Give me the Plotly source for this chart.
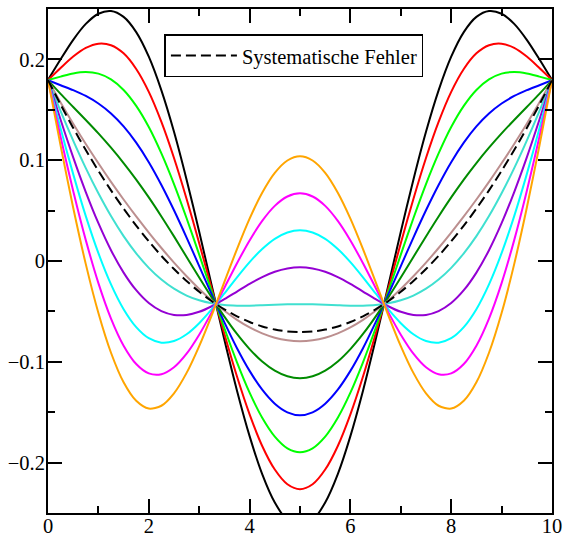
import plotly.graph_objects as go

x = [0, 0.25, 0.5, 0.75, 1, 1.25, 1.5, 1.75, 2, 2.25, 2.5, 2.75, 3, 3.25, 3.5, 3.75, 4, 4.25, 4.5, 4.75, 5,
     5.25, 5.5, 5.75, 6, 6.25, 6.5, 6.75, 7, 7.25, 7.5, 7.75, 8, 8.25, 8.5, 8.75, 9, 9.25, 9.5, 9.75, 10]

black = [0.1795, 0.2001, 0.2194, 0.2352, 0.2453, 0.2480, 0.2422, 0.2271, 0.2027, 0.1693, 0.1282, 0.0807,
         0.0290, -0.0248, -0.0781, -0.1286, -0.1737, -0.2114, -0.2396, -0.2572, -0.2631,
         -0.2572, -0.2396, -0.2114, -0.1737, -0.1286, -0.0781, -0.0248, 0.0290, 0.0807, 0.1282, 0.1693,
         0.2027, 0.2271, 0.2422, 0.2480, 0.2453, 0.2352, 0.2194, 0.2001, 0.1795]
red = [0.1795, 0.1915, 0.2028, 0.2114, 0.2156, 0.2141, 0.2060, 0.1905, 0.1678, 0.1380, 0.1022, 0.0616,
       0.0177, -0.0277, -0.0724, -0.1146, -0.1521, -0.1835, -0.2069, -0.2215, -0.2264,
       -0.2215, -0.2069, -0.1835, -0.1521, -0.1146, -0.0724, -0.0277, 0.0177, 0.0616, 0.1022, 0.1380,
       0.1678, 0.1905, 0.2060, 0.2141, 0.2156, 0.2114, 0.2028, 0.1915, 0.1795]
green = [0.1795, 0.1829, 0.1861, 0.1875, 0.1859, 0.1802, 0.1697, 0.1539, 0.1329, 0.1067, 0.0763, 0.0424,
         0.0063, -0.0305, -0.0667, -0.1005, -0.1306, -0.1555, -0.1742, -0.1858, -0.1897,
         -0.1858, -0.1742, -0.1555, -0.1306, -0.1005, -0.0667, -0.0305, 0.0063, 0.0424, 0.0763, 0.1067,
         0.1329, 0.1539, 0.1697, 0.1802, 0.1859, 0.1875, 0.1861, 0.1829, 0.1795]
blue = [0.1795, 0.1744, 0.1695, 0.1637, 0.1562, 0.1463, 0.1335, 0.1174, 0.0980, 0.0754, 0.0503, 0.0232,
        -0.0050, -0.0334, -0.0609, -0.0865, -0.1090, -0.1276, -0.1415, -0.1501, -0.1530,
        -0.1501, -0.1415, -0.1276, -0.1090, -0.0865, -0.0609, -0.0334, -0.0050, 0.0232, 0.0503, 0.0754,
        0.0980, 0.1174, 0.1335, 0.1463, 0.1562, 0.1637, 0.1695, 0.1744, 0.1795]
green4 = [0.1795, 0.1658, 0.1528, 0.1399, 0.1266, 0.1124, 0.0972, 0.0808, 0.0631, 0.0442, 0.0244, 0.0040,
          -0.0164, -0.0363, -0.0552, -0.0724, -0.0874, -0.0997, -0.1088, -0.1144, -0.1163,
          -0.1144, -0.1088, -0.0997, -0.0874, -0.0724, -0.0552, -0.0363, -0.0164, 0.0040, 0.0244, 0.0442,
          0.0631, 0.0808, 0.0972, 0.1124, 0.1266, 0.1399, 0.1528, 0.1658, 0.1795]
brown = [0.1795, 0.1572, 0.1361, 0.1160, 0.0969, 0.0785, 0.0610, 0.0442, 0.0282, 0.0129, -0.0016, -0.0151,
         -0.0277, -0.0392, -0.0494, -0.0584, -0.0659, -0.0718, -0.0761, -0.0787, -0.0796,
         -0.0787, -0.0761, -0.0718, -0.0659, -0.0584, -0.0494, -0.0392, -0.0277, -0.0151, -0.0016, 0.0129,
         0.0282, 0.0442, 0.0610, 0.0785, 0.0969, 0.1160, 0.1361, 0.1572, 0.1795]
turquoise = [0.1795, 0.1487, 0.1195, 0.0922, 0.0672, 0.0446, 0.0247, 0.0076, -0.0068, -0.0184, -0.0275, -0.0343,
             -0.0390, -0.0420, -0.0437, -0.0443, -0.0443, -0.0439, -0.0434, -0.0430, -0.0429,
             -0.0430, -0.0434, -0.0439, -0.0443, -0.0443, -0.0437, -0.0420, -0.0390, -0.0343, -0.0275, -0.0184,
             -0.0068, 0.0076, 0.0247, 0.0446, 0.0672, 0.0922, 0.1195, 0.1487, 0.1795]
violet = [0.1795, 0.1401, 0.1028, 0.0684, 0.0375, 0.0107, -0.0115, -0.0290, -0.0417, -0.0497, -0.0535, -0.0535,
          -0.0504, -0.0449, -0.0379, -0.0303, -0.0227, -0.0160, -0.0107, -0.0074, -0.0062,
          -0.0074, -0.0107, -0.0160, -0.0227, -0.0303, -0.0379, -0.0449, -0.0504, -0.0535, -0.0535, -0.0497,
          -0.0417, -0.0290, -0.0115, 0.0107, 0.0375, 0.0684, 0.1028, 0.1401, 0.1795]
cyan = [0.1795, 0.1315, 0.0862, 0.0445, 0.0078, -0.0232, -0.0478, -0.0656, -0.0766, -0.0810, -0.0794, -0.0727,
        -0.0617, -0.0478, -0.0322, -0.0162, -0.0011, 0.0119, 0.0220, 0.0283, 0.0305,
        0.0283, 0.0220, 0.0119, -0.0011, -0.0162, -0.0322, -0.0478, -0.0617, -0.0727, -0.0794, -0.0810,
        -0.0766, -0.0656, -0.0478, -0.0232, 0.0078, 0.0445, 0.0862, 0.1315, 0.1795]
magenta = [0.1795, 0.1230, 0.0695, 0.0207, -0.0219, -0.0571, -0.0840, -0.1022, -0.1115, -0.1123, -0.1054, -0.0919,
           -0.0731, -0.0507, -0.0265, -0.0022, 0.0204, 0.0398, 0.0547, 0.0640, 0.0672,
           0.0640, 0.0547, 0.0398, 0.0204, -0.0022, -0.0265, -0.0507, -0.0731, -0.0919, -0.1054, -0.1123,
           -0.1115, -0.1022, -0.0840, -0.0571, -0.0219, 0.0207, 0.0695, 0.1230, 0.1795]
orange = [0.1795, 0.1144, 0.0528, -0.0031, -0.0516, -0.0910, -0.1203, -0.1387, -0.1464, -0.1436, -0.1313, -0.1110,
          -0.0844, -0.0536, -0.0207, 0.0118, 0.0420, 0.0677, 0.0874, 0.0997, 0.1039,
          0.0997, 0.0874, 0.0677, 0.0420, 0.0118, -0.0207, -0.0536, -0.0844, -0.1110, -0.1313, -0.1436,
          -0.1464, -0.1387, -0.1203, -0.0910, -0.0516, -0.0031, 0.0528, 0.1144, 0.1795]
systematic = [0.1795, 0.1551, 0.1320, 0.1101, 0.0895, 0.0701, 0.0520, 0.0351, 0.0195, 0.0051, -0.0080, -0.0199,
              -0.0305, -0.0399, -0.0480, -0.0549, -0.0605, -0.0649, -0.0680, -0.0699, -0.0705,
              -0.0699, -0.0680, -0.0649, -0.0605, -0.0549, -0.0480, -0.0399, -0.0305, -0.0199, -0.0080, 0.0051,
              0.0195, 0.0351, 0.0520, 0.0701, 0.0895, 0.1101, 0.1320, 0.1551, 0.1795]

series = [
    (black, "rgb(0,0,0)"),
    (red, "rgb(255,0,0)"),
    (green, "rgb(0,255,0)"),
    (blue, "rgb(0,0,255)"),
    (green4, "rgb(0,139,0)"),
    (brown, "rgb(188,143,143)"),
    (turquoise, "rgb(64,224,208)"),
    (violet, "rgb(148,0,211)"),
    (cyan, "rgb(0,255,255)"),
    (magenta, "rgb(255,0,255)"),
    (orange, "rgb(255,165,0)"),
]

fig = go.Figure()
for ys, col in series:
    fig.add_trace(go.Scatter(x=x, y=ys, mode="lines", showlegend=False,
                             line=dict(color=col, width=2, shape="spline", smoothing=0.8)))
fig.add_trace(go.Scatter(x=x, y=systematic, mode="lines", name="Systematische Fehler",
                         line=dict(color="black", width=2, dash="10px,5px", shape="spline", smoothing=0.8)))

font = dict(family="Liberation Serif", size=20.5, color="black")
axis_common = dict(showline=True, linecolor="black", linewidth=2, mirror="allticks",
                   ticks="inside", ticklen=14, tickwidth=1.5, tickcolor="black",
                   showgrid=False, zeroline=False, tickfont=font, automargin=False)

fig.update_xaxes(range=[0, 10], dtick=2, tick0=0, ticklabelstandoff=-7,
                 minor=dict(dtick=1, ticks="inside", ticklen=7, tickwidth=1.5, tickcolor="black", showgrid=False),
                 **axis_common)
fig.update_yaxes(range=[-0.25, 0.25], dtick=0.1, tick0=0, ticklabelstandoff=-3,
                 minor=dict(dtick=0.05, ticks="inside", ticklen=7, tickwidth=1.5, tickcolor="black", showgrid=False),
                 **axis_common)

fig.update_layout(
    width=564, height=537,
    margin=dict(l=48, r=12, t=9, b=24, autoexpand=False),
    paper_bgcolor="white", plot_bgcolor="white",
    font=font,
    showlegend=True,
    legend=dict(x=0.231, y=0.95, xanchor="left", yanchor="top",
                bgcolor="white", bordercolor="black", borderwidth=1.5,
                font=font, itemwidth=66),
)

fig.write_html("out.html")
